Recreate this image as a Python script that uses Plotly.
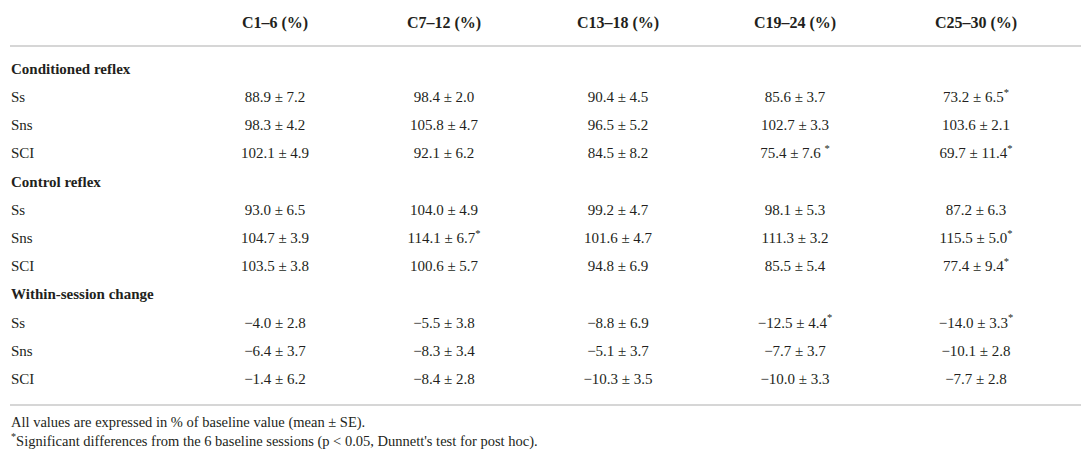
import plotly.graph_objects as go

# Table content
columns = ["C1–6 (%)", "C7–12 (%)", "C13–18 (%)", "C19–24 (%)", "C25–30 (%)"]
sections = ["Conditioned reflex", "Control reflex", "Within-session change"]
groups = ["Ss", "Sns", "SCI"]

# mean, SE, significance flag for each column (rows: 3 sections x 3 groups)
# sig: 0 = none, 1 = asterisk, 2 = asterisk after a space (as printed)
c1_6_mean = [88.9, 98.3, 102.1, 93.0, 104.7, 103.5, -4.0, -6.4, -1.4]
c1_6_se = [7.2, 4.2, 4.9, 6.5, 3.9, 3.8, 2.8, 3.7, 6.2]
c1_6_sig = [0, 0, 0, 0, 0, 0, 0, 0, 0]

c7_12_mean = [98.4, 105.8, 92.1, 104.0, 114.1, 100.6, -5.5, -8.3, -8.4]
c7_12_se = [2.0, 4.7, 6.2, 4.9, 6.7, 5.7, 3.8, 3.4, 2.8]
c7_12_sig = [0, 0, 0, 0, 1, 0, 0, 0, 0]

c13_18_mean = [90.4, 96.5, 84.5, 99.2, 101.6, 94.8, -8.8, -5.1, -10.3]
c13_18_se = [4.5, 5.2, 8.2, 4.7, 4.7, 6.9, 6.9, 3.7, 3.5]
c13_18_sig = [0, 0, 0, 0, 0, 0, 0, 0, 0]

c19_24_mean = [85.6, 102.7, 75.4, 98.1, 111.3, 85.5, -12.5, -7.7, -10.0]
c19_24_se = [3.7, 3.3, 7.6, 5.3, 3.2, 5.4, 4.4, 3.7, 3.3]
c19_24_sig = [0, 0, 2, 0, 0, 0, 1, 0, 0]

c25_30_mean = [73.2, 103.6, 69.7, 87.2, 115.5, 77.4, -14.0, -10.1, -7.7]
c25_30_se = [6.5, 2.1, 11.4, 6.3, 5.0, 9.4, 3.3, 2.8, 2.8]
c25_30_sig = [1, 0, 1, 0, 1, 1, 1, 0, 0]

footnote_1 = "All values are expressed in % of baseline value (mean ± SE)."
footnote_2 = "<sup>*</sup>Significant differences from the 6 baseline sessions (p < 0.05, Dunnett's test for post hoc)."

col_means = [c1_6_mean, c7_12_mean, c13_18_mean, c19_24_mean, c25_30_mean]
col_ses = [c1_6_se, c7_12_se, c13_18_se, c19_24_se, c25_30_se]
col_sigs = [c1_6_sig, c7_12_sig, c13_18_sig, c19_24_sig, c25_30_sig]

FONT = "Liberation Serif"
INK = "#231f20"
RULE = "#c8c8c8"

col_x = [267, 436, 610, 787, 968]
label_x = 3
header_y = 16
row_top = 62
row_step = 28.2
foot_y = [415, 434]

# body rows: section title then its three groups
row_labels = []
row_y = []
k = 0
for s in sections:
    row_labels.append("<b>" + s + "</b>")
    row_y.append(row_top + row_step * k)
    k += 1
    for g in groups:
        row_labels.append(g)
        row_y.append(row_top + row_step * k)
        k += 1

value_y = [y for lab, y in zip(row_labels, row_y) if not lab.startswith("<b>")]


def fmt(m, se, sig):
    s = f"{m:.1f} ± {se:.1f}".replace("-", "−")
    if sig == 2:
        s += " "
    if sig:
        s += "<sup>*</sup>"
    return s


fig = go.Figure()

# header
fig.add_trace(go.Scatter(
    x=col_x, y=[header_y] * len(columns), mode="text",
    text=["<b>" + c + "</b>" for c in columns],
    textfont=dict(family=FONT, size=16, color=INK),
    textposition="middle center", hoverinfo="skip"))

# row labels
fig.add_trace(go.Scatter(
    x=[label_x] * len(row_labels), y=row_y, mode="text",
    text=row_labels,
    textfont=dict(family=FONT, size=15, color=INK),
    textposition="middle right", hoverinfo="skip"))

# values
for cx, means, ses, sigs in zip(col_x, col_means, col_ses, col_sigs):
    fig.add_trace(go.Scatter(
        x=[cx] * len(means), y=value_y, mode="text",
        text=[fmt(m, s, g) for m, s, g in zip(means, ses, sigs)],
        textfont=dict(family=FONT, size=15, color=INK),
        textposition="middle center", hoverinfo="skip"))

# footnotes
fig.add_trace(go.Scatter(
    x=[label_x, label_x], y=foot_y, mode="text",
    text=[footnote_1, footnote_2],
    textfont=dict(family=FONT, size=14.5, color=INK),
    textposition="middle right", hoverinfo="skip"))

fig.add_shape(type="line", x0=2, x1=1087, y0=38, y1=38,
              line=dict(color=RULE, width=1.5))
fig.add_shape(type="line", x0=2, x1=1087, y0=397, y1=397,
              line=dict(color=RULE, width=1.5))

fig.update_layout(
    width=1089, height=451,
    margin=dict(l=0, r=0, t=0, b=0),
    paper_bgcolor="white", plot_bgcolor="white",
    showlegend=False,
    xaxis=dict(range=[0, 1089], visible=False, fixedrange=True),
    yaxis=dict(range=[451, 0], visible=False, fixedrange=True),
)

fig.write_html("out.html")
